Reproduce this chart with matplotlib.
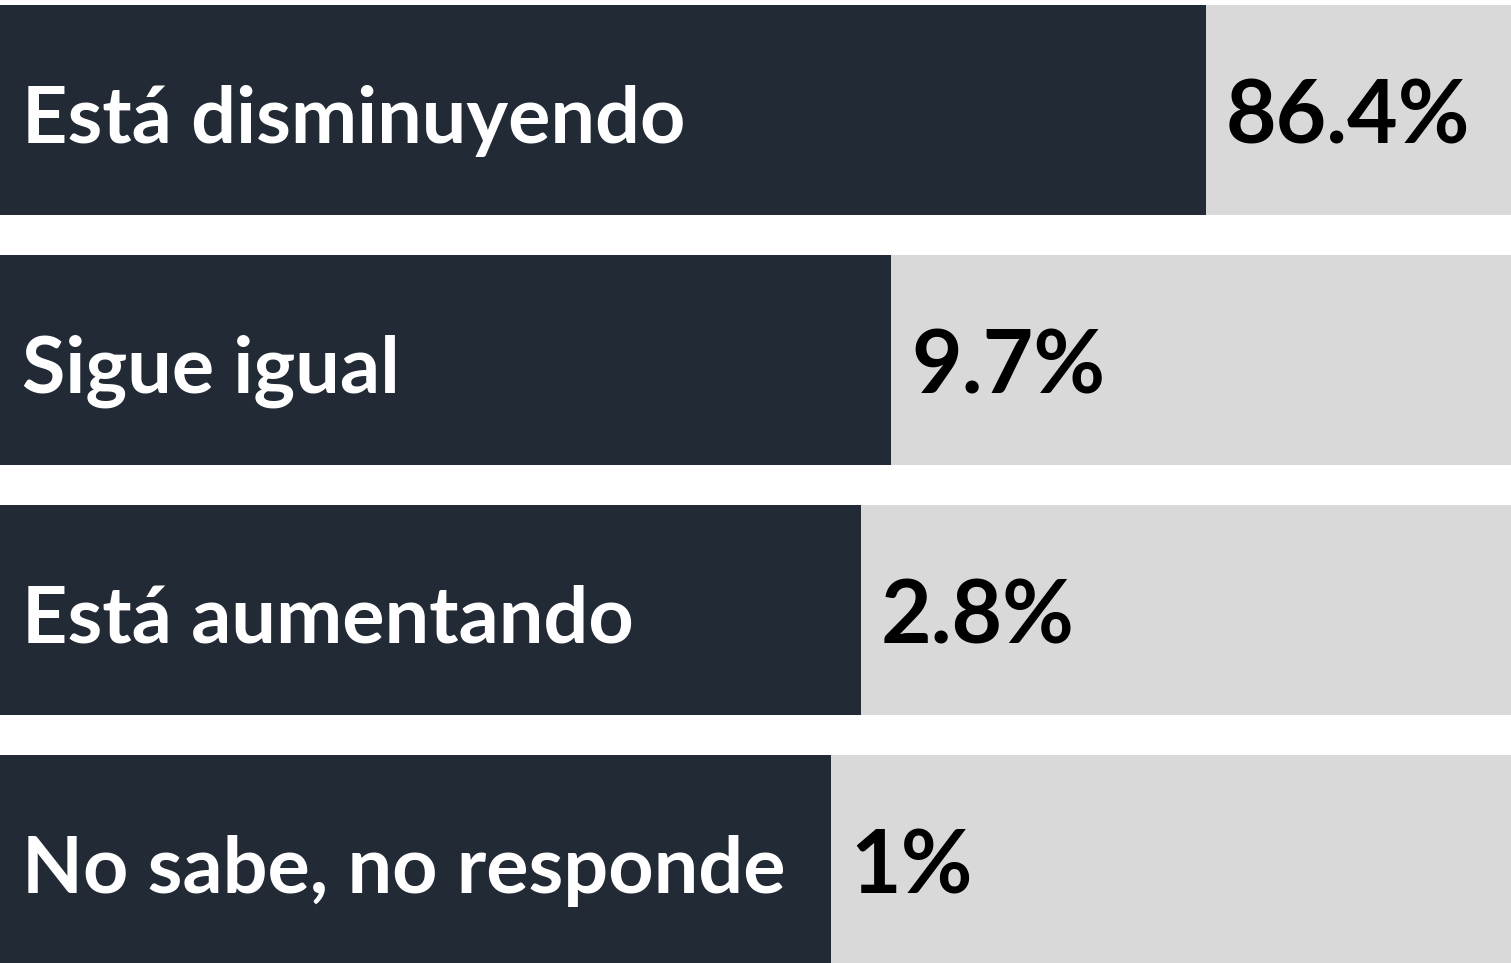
import matplotlib
matplotlib.use("Agg")
import matplotlib.pyplot as plt

# Data
categories = ["Está disminuyendo", "Sigue igual", "Está aumentando", "No sabe, no responde"]
value_labels = ["86.4%", "9.7%", "2.8%", "1%"]
# share of row width covered by the dark label block (%), as drawn
dark_fill = [79.8, 59.0, 57.0, 55.0]

DARK = "#222a36"
GRAY = "#d9d9d9"

fig = plt.figure(figsize=(15.11, 9.63), dpi=100)
ax = fig.add_axes([0, 0, 1, 1])
ax.set_xlim(0, 100)
# one row = 250 px; figure is 963 px tall
top = -110.0 / 250
ax.set_ylim(top + 963 / 250, top)
ax.axis("off")

ypos = list(range(len(categories)))
bar_h = 0.84

ax.barh(ypos, [100] * len(ypos), height=bar_h, color=GRAY, linewidth=0)
ax.barh(ypos, dark_fill, height=bar_h, color=DARK, linewidth=0)

label_font = dict(family=["Lato", "DejaVu Sans"], fontweight="bold", fontsize=57)
value_font = dict(family=["Lato", "DejaVu Sans"], fontweight="bold", fontsize=63)
for y, cat, fill, val in zip(ypos, categories, dark_fill, value_labels):
    ax.text(1.45, y + 0.13, cat, color="white", va="baseline", ha="left", **label_font)
    ax.text(fill + 1.3, y + 0.135, val, color="black", va="baseline", ha="left", **value_font)

fig.savefig("out.png", dpi=100)
